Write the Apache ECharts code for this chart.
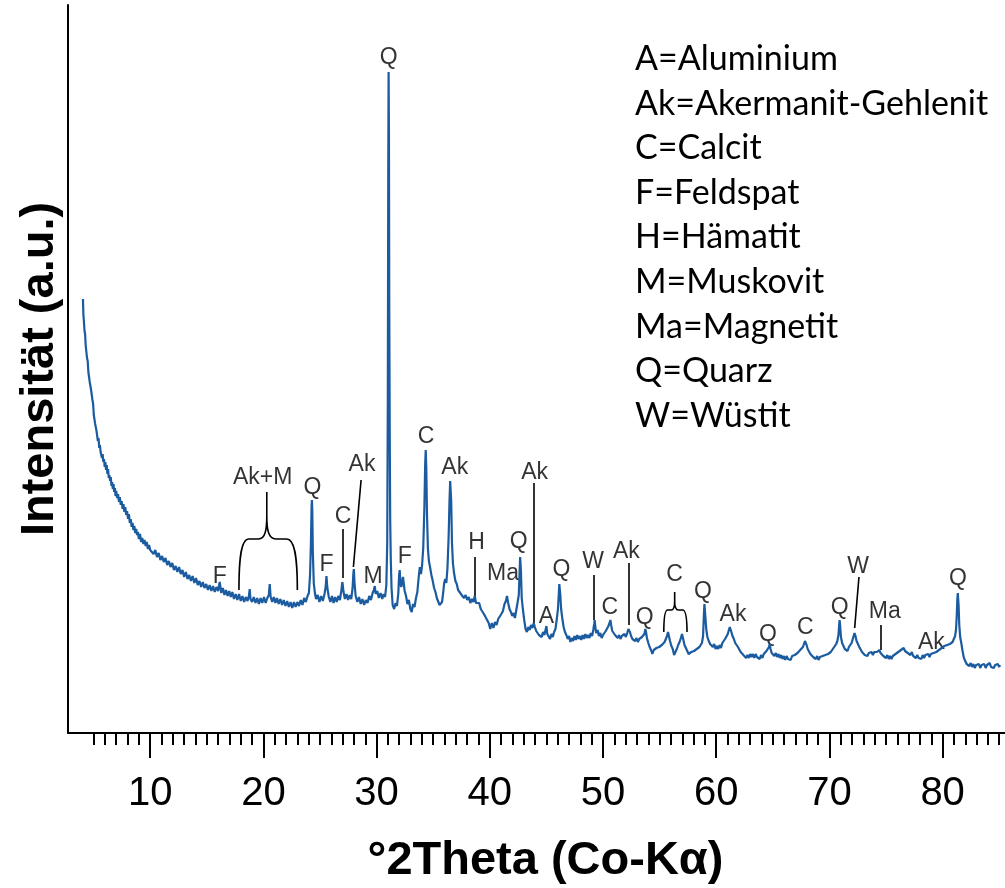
<!DOCTYPE html>
<html><head><meta charset="utf-8">
<script src="https://cdn.jsdelivr.net/npm/echarts@6/dist/echarts.min.js"></script>
<style>html,body{margin:0;padding:0;background:#fff}#c{width:1005px;height:888px}</style>
</head><body><div id="c"></div>
<script>
// ---- data (°2θ, intensity a.u.) ----
const scanLow = [[4.06,434],[4.10,418],[4.15,411],[4.20,402],[4.25,399],[4.30,388],[4.36,387],[4.42,375],[4.48,372],[4.54,361],[4.60,362],[4.66,351],[4.72,349],[4.78,343],[4.84,338],[4.90,333],[4.96,329],[5.02,318],[5.08,320],[5.14,309],[5.20,307],[5.26,302],[5.32,300],[5.38,292],[5.44,295],[5.50,285],[5.56,288],[5.62,281],[5.68,283],[5.74,275],[5.80,279],[5.86,271],[5.92,274],[5.98,266],[6.04,271],[6.10,263],[6.16,268],[6.22,259],[6.28,264],[6.34,255],[6.40,258],[6.46,252],[6.52,256],[6.58,247],[6.64,251],[6.70,244],[6.76,249],[6.82,241],[6.88,245],[6.94,237],[7.00,242],[7.08,235],[7.16,239],[7.24,231],[7.32,236],[7.40,228],[7.48,232],[7.56,224],[7.64,229],[7.72,221],[7.80,226],[7.88,218],[7.96,222],[8.04,214],[8.12,219],[8.20,210],[8.28,214],[8.36,206],[8.44,210],[8.52,203],[8.60,207],[8.68,200],[8.76,204],[8.84,198],[8.92,201],[9.00,194],[9.10,199],[9.20,191],[9.30,195],[9.40,189],[9.50,193],[9.60,187],[9.70,191],[9.80,184],[9.90,188],[10.00,183],
[10.15,185],[10.30,179],[10.45,183],[10.60,176],[10.75,180],[10.90,173],[11.05,177],[11.20,171],[11.35,175],[11.50,168],[11.65,172],[11.80,166],[11.95,170],[12.10,163],[12.25,167],[12.40,161],[12.55,166],[12.70,159],[12.85,163],[13.00,156],[13.15,161],[13.30,154],[13.45,158],[13.60,152],[13.75,157],[13.90,150],[14.05,155],[14.20,148],[14.35,152],[14.50,146],[14.65,151],[14.80,145],[14.95,149],[15.10,143],[15.25,148],[15.40,142],[15.55,147],[15.70,141],[15.85,146],[16.00,142],[16.14,151],[16.28,140],[16.42,145],[16.56,138],[16.70,143],[16.84,137],[16.98,142],[17.12,136],[17.26,141],[17.40,134],[17.55,139],[17.70,133],[17.85,139],[18.00,132],[18.15,137],[18.30,131],[18.45,136],[18.60,132],[18.72,137],[18.79,144],[18.86,134],[19.00,131],[19.15,136],[19.30,130],[19.45,135],[19.60,129],[19.75,135],[19.90,130],[20.05,136],[20.20,130],[20.35,135],[20.48,138],[20.56,149],[20.64,136],[20.78,131],[20.92,136],[21.06,130],[21.20,135],[21.35,129],[21.50,134],[21.65,128],[21.80,133],[21.95,127],[22.10,132],[22.25,126],[22.40,131],[22.55,125],[22.70,131],[22.85,126],[23.00,131],[23.15,127],[23.30,133],[23.45,128],[23.60,135],[23.75,131],[23.90,137],[24.02,140],[24.12,158],[24.20,190],[24.26,228],[24.29,233],[24.32,222],[24.37,180],[24.45,150],[24.55,140]];
const scanMid = [[24.65,134],[24.80,138],[24.95,131],[25.10,137],[25.25,132],[25.40,139],[25.50,146],[25.57,157],[25.65,145],[25.78,136],[25.92,131],[26.06,137],[26.20,130],[26.34,136],[26.48,131],[26.62,137],[26.76,133],[26.88,142],[26.98,151],[27.08,141],[27.20,134],[27.34,139],[27.48,133],[27.62,138],[27.76,134],[27.88,145],[27.95,160],[27.99,164],[28.05,150],[28.15,137],[28.30,131],[28.45,136],[28.60,129],[28.75,134],[28.90,128],[29.05,133],[29.20,130],[29.35,137],[29.50,133],[29.65,140],[29.76,143],[29.84,147],[29.92,139],[30.06,142],[30.20,135],[30.35,140],[30.50,134],[30.62,139],[30.75,136],[30.86,148],[30.94,190],[30.99,330],[31.03,560],[31.06,661],[31.09,600],[31.12,420],[31.16,300],[31.20,215],[31.25,175],[31.32,145],[31.42,128],[31.55,124],[31.68,130],[31.80,127],[31.92,140],[31.99,158],[32.04,163],[32.10,150],[32.18,146],[32.26,152],[32.33,156],[32.40,158],[32.48,142],[32.60,137],[32.72,129],[32.85,133],[32.98,124],[33.10,121],[33.22,129],[33.35,126],[33.48,135],[33.60,141],[33.72,156],[33.82,166],[33.92,159],[34.02,168],[34.12,185],[34.22,225],[34.29,268],[34.34,283],[34.39,265],[34.45,220],[34.53,185],[34.62,172],[34.72,166],[34.84,158],[34.96,152],[35.08,145],[35.20,141],[35.32,135],[35.44,133],[35.56,128],[35.68,126],[35.78,131],[35.88,140],[35.97,150],[36.06,154],[36.16,150],[36.26,165],[36.36,195],[36.44,232],[36.50,252],[36.54,254],[36.59,232],[36.66,190],[36.74,170],[36.84,160],[36.96,152],[37.08,149],[37.20,143],[37.32,145],[37.45,139],[37.58,141],[37.72,135],[37.86,138],[38.00,133],[38.14,136],[38.28,130],[38.42,134],[38.55,131],[38.67,137],[38.78,130],[38.92,128],[39.06,130],[39.20,124],[39.34,126],[39.48,119],[39.62,121],[39.76,113],[39.90,110],[40.04,104],[40.18,110],[40.32,105],[40.46,111],[40.60,108],[40.74,114],[40.88,112],[41.02,119],[41.16,122],[41.30,129],[41.42,132],[41.52,137],[41.62,130],[41.74,124],[41.86,121],[41.98,117],[42.10,120],[42.22,115],[42.34,123],[42.46,131],[42.56,138],[42.63,160],[42.68,176],[42.71,178],[42.75,162],[42.82,135],[42.92,124],[43.04,113],[43.16,104],[43.28,101],[43.40,106],[43.52,103],[43.64,108],[43.76,105],[43.88,110],[43.98,106],[44.10,102],[44.22,104],[44.34,98],[44.46,100],[44.58,96],[44.70,101],[44.82,98],[44.92,103],[45.00,107],[45.08,99],[45.20,97],[45.32,94],[45.44,99],[45.56,96],[45.68,101],[45.80,104],[45.92,114],[46.02,124],[46.09,138],[46.14,149],[46.18,151],[46.23,138],[46.30,124],[46.40,115],[46.52,106],[46.64,101]];
const scanHigh = [[46.76,98],[46.88,94],[47.00,97],[47.12,91],[47.24,95],[47.36,92],[47.48,97],[47.60,93],[47.72,98],[47.84,94],[47.96,97],[48.08,93],[48.20,98],[48.32,94],[48.44,99],[48.56,95],[48.68,98],[48.80,95],[48.92,100],[49.04,97],[49.14,103],[49.22,109],[49.27,113],[49.32,106],[49.40,100],[49.52,103],[49.64,97],[49.76,100],[49.88,95],[50.00,98],[50.12,97],[50.24,102],[50.36,104],[50.48,107],[50.58,110],[50.65,113],[50.72,108],[50.82,102],[50.94,104],[51.06,98],[51.18,100],[51.30,95],[51.42,98],[51.54,94],[51.66,97],[51.78,95],[51.90,99],[52.02,96],[52.14,100],[52.24,104],[52.30,106],[52.38,101],[52.48,97],[52.60,94],[52.72,96],[52.84,92],[52.96,95],[53.08,91],[53.20,94],[53.32,92],[53.44,96],[53.56,95],[53.66,99],[53.74,104],[53.80,101],[53.88,95],[54.00,90],[54.12,86],[54.24,83],[54.36,79],[54.48,83],[54.60,81],[54.72,85],[54.84,83],[54.96,86],[55.08,84],[55.20,88],[55.32,87],[55.44,91],[55.56,93],[55.66,97],[55.74,101],[55.82,97],[55.92,92],[56.04,87],[56.16,84],[56.28,78],[56.40,80],[56.52,84],[56.64,88],[56.76,91],[56.88,95],[56.98,99],[57.08,94],[57.20,88],[57.32,85],[57.44,82],[57.56,79],[57.68,77],[57.80,81],[57.92,79],[58.04,82],[58.16,80],[58.28,84],[58.40,82],[58.52,86],[58.64,85],[58.74,90],[58.84,97],[58.91,118],[58.96,129],[59.00,130],[59.05,115],[59.12,104],[59.22,96],[59.34,92],[59.46,89],[59.58,91],[59.70,86],[59.82,89],[59.94,84],[60.06,87],[60.18,84],[60.30,88],[60.42,85],[60.54,90],[60.66,89],[60.78,94],[60.90,96],[61.02,99],[61.12,103],[61.20,106],[61.26,107],[61.34,101],[61.44,97],[61.56,94],[61.68,90],[61.80,91],[61.92,86],[62.04,85],[62.16,81],[62.28,83],[62.40,78],[62.52,80],[62.64,75],[62.76,78],[62.88,75],[63.00,79],[63.12,76],[63.24,79],[63.36,75],[63.48,79],[63.60,76],[63.72,78],[63.84,74],[63.96,78],[64.08,75],[64.20,79],[64.32,78],[64.44,82],[64.56,81],[64.66,86],[64.73,89],[64.80,84],[64.90,80],[65.02,82],[65.14,77],[65.26,80],[65.38,76],[65.50,79],[65.62,75],[65.74,78],[65.86,74],[65.98,77],[66.10,73],[66.22,77],[66.34,74],[66.46,76],[66.58,73],[66.70,77],[66.82,75],[66.94,78],[67.06,76],[67.18,80],[67.30,79],[67.42,83],[67.54,82],[67.66,86],[67.76,88],[67.84,92],[67.90,93],[67.98,88],[68.08,84],[68.20,82],[68.32,79],[68.44,80],[68.56,76],[68.68,78],[68.80,74],[68.92,77],[69.04,73],[69.16,76],[69.28,74],[69.40,77],[69.52,75],[69.64,78],[69.76,76],[69.88,79],[70.00,77],[70.12,81],[70.24,80],[70.36,85],[70.48,85],[70.60,89],[70.70,92],[70.80,98],[70.86,108],[70.90,113],[70.95,107],[71.02,96],[71.12,90],[71.24,88],[71.36,84],[71.48,86],[71.60,82],[71.72,86],[71.84,85],[71.96,90],[72.06,92],[72.14,97],[72.22,100],[72.30,97],[72.40,92],[72.52,89],[72.64,86],[72.76,84],[72.88,81],[73.00,82],[73.12,78],[73.24,80],[73.36,77],[73.48,80],[73.60,78],[73.72,81],[73.84,78],[73.96,81],[74.08,79],[74.20,81],[74.32,80],[74.40,83],[74.52,80],[74.64,81],[74.76,77],[74.88,79],[75.00,75],[75.12,78],[75.24,74],[75.36,77],[75.48,74],[75.60,77],[75.72,75],[75.84,79],[75.96,77],[76.08,81],[76.20,79],[76.32,83],[76.44,81],[76.56,85],[76.68,82],[76.80,84],[76.92,80],[77.04,82],[77.16,78],[77.28,81],[77.40,77],[77.52,79],[77.64,75],[77.76,78],[77.88,75],[78.00,77],[78.12,74],[78.24,78],[78.36,75],[78.48,78],[78.60,76],[78.72,79],[78.84,76],[78.96,79],[79.08,77],[79.20,80],[79.32,78],[79.44,81],[79.56,80],[79.68,83],[79.80,82],[79.92,85],[80.04,84],[80.16,87],[80.28,85],[80.40,88],[80.52,86],[80.64,89],[80.76,88],[80.88,91],[81.00,93],[81.10,97],[81.18,103],[81.25,118],[81.30,134],[81.34,140],[81.37,141],[81.41,128],[81.47,108],[81.55,96],[81.65,90],[81.76,82],[81.88,75],[82.00,72],[82.12,69],[82.24,71],[82.36,67],[82.48,70],[82.60,66],[82.72,69],[82.84,65],[82.96,68],[83.08,66],[83.20,69],[83.32,65],[83.44,68],[83.56,66],[83.68,69],[83.80,65],[83.92,68],[84.04,66],[84.16,70],[84.28,66],[84.40,68],[84.52,65],[84.64,68],[84.76,66],[84.88,69],[85.00,66],[85.06,68]];

// phase labels: [text, °2θ, intensity where the label sits]
const peakLabels = [['F',16.14,156],['Ak+M',19.94,255],['Q',24.33,245],['F',25.57,168],['C',27.03,216],['Ak',28.71,268],['M',29.68,156],['Q',31.07,675],['F',32.48,176],['C',34.36,296],['Ak',36.90,265],['H',38.82,190],['Ma',41.17,159],['Q',42.55,191],['Ak',43.96,260],['A',45.00,116],['Q',46.32,163],['W',49.12,171],['C',50.59,125],['Ak',52.07,181],['Q',53.68,115],['C',56.33,158],['Q',58.83,141],['Ak',61.48,118],['Q',64.58,98],['C',67.88,105],['Q',70.91,125],['W',72.53,166],['Ma',74.89,121],['Ak',79.01,90],['Q',81.36,154]];
// leader lines: [θ1, I1, θ2, I2]
const leaderLines = [[26.98,204,26.98,155],[28.63,253,27.95,166],[38.67,176,38.67,133],[43.90,250,43.90,110],[49.17,158,49.17,113],[52.30,170,52.30,108],[72.61,156,72.23,105],[74.50,108,74.50,83]];
// braces: [θ left, θ right, θ middle, I bottom, I shoulder, I tip]
const braces = [[17.84,23.00,20.30,143,194,241],[55.37,57.42,56.33,101,123,141]];
const legendLines = ['A=Aluminium','Ak=Akermanit-Gehlenit','C=Calcit','F=Feldspat','H=Hämatit','M=Muskovit','Ma=Magnetit','Q=Quarz','W=Wüstit'];
const majorTicks = [10,20,30,40,50,60,70,80];
const minorTicks = [5,6,7,8,9,11,12,13,14,15,16,17,18,19,21,22,23,24,25,26,27,28,29,31,32,33,34,35,36,37,38,39,41,42,43,44,45,46,47,48,49,51,52,53,54,55,56,57,58,59,61,62,63,64,65,66,67,68,69,71,72,73,74,75,76,77,78,79,81,82,83,84,85];
const xRange = [2.74, 85.51];
const yRange = [0, 728];

const scan = scanLow.concat(scanMid, scanHigh);
const chart = echarts.init(document.getElementById('c'), null, {renderer:'canvas'});
const ARIAL = 'Liberation Sans';

const option = {
  animation: false,
  backgroundColor: '#fff',
  grid: {left: 68, right: 0, top: 5, bottom: 155, containLabel: false, outerBoundsMode: 'none'},
  xAxis: [{
    type: 'value', min: xRange[0], max: xRange[1],
    axisLine: {lineStyle: {color: '#000', width: 2}},
    splitLine: {show: false},
    axisTick: {customValues: majorTicks, length: 25, lineStyle: {color: '#000', width: 2}},
    axisLabel: {customValues: majorTicks, fontSize: 40, color: '#000', fontFamily: ARIAL, margin: 41},
    name: '°2Theta (Co-Kα)', nameLocation: 'middle', nameGap: 105, nameMoveOverlap: false,
    nameTextStyle: {fontSize: 47, fontWeight: 'bold', color: '#000', fontFamily: ARIAL, padding: [0, 0, 0, 18]}
  }, {
    type: 'value', min: xRange[0], max: xRange[1], position: 'bottom',
    axisLine: {show: false}, axisLabel: {show: false}, splitLine: {show: false},
    axisTick: {customValues: minorTicks, length: 12, lineStyle: {color: '#000', width: 2}}
  }],
  yAxis: {
    type: 'value', min: yRange[0], max: yRange[1],
    axisLine: {show: true, lineStyle: {color: '#000', width: 2}},
    axisTick: {show: false}, axisLabel: {show: false}, splitLine: {show: false},
    name: 'Intensität (a.u.)', nameLocation: 'middle', nameGap: 4, nameMoveOverlap: false,
    nameTextStyle: {fontSize: 47, fontWeight: 'bold', color: '#000', fontFamily: ARIAL}
  },
  graphic: legendLines.map((t, i) => ({
    type: 'text', x: 635, y: 59 + i * 44.6, silent: true,
    style: {text: t, fontSize: 34, fontFamily: 'Lato', fill: '#000', verticalAlign: 'middle'}
  })),
  series: [{
    type: 'line', data: scan, symbol: 'none', silent: true,
    lineStyle: {color: '#1b5b9f', width: 2.2}
  }, {
    type: 'lines', coordinateSystem: 'cartesian2d', silent: true,
    data: leaderLines.map(l => ({coords: [[l[0], l[1]], [l[2], l[3]]]})),
    lineStyle: {color: '#000', width: 1.6, opacity: 1}
  }, {
    type: 'custom', silent: true, clip: false,
    data: braces,
    renderItem: function (params, api) {
      const l = api.coord([api.value(0), api.value(3)]);
      const r = api.coord([api.value(1), api.value(3)]);
      const m = api.coord([api.value(2), api.value(4)]);
      const t = api.coord([api.value(2), api.value(5)]);
      const xL = l[0], xR = r[0], xM = m[0], yB = l[1], yS = m[1], yT = t[1];
      const c = (yS - yT) * 0.5, hl = xM - xL, hr = xR - xM;
      const d = 'M' + xL + ',' + yB +
        ' C' + xL + ',' + (yS + (yB - yS) * 0.3) + ' ' + (xL + hl * 0.1) + ',' + yS + ' ' + (xL + hl * 0.35) + ',' + yS +
        ' L' + (xM - hl * 0.3) + ',' + yS +
        ' C' + (xM - hl * 0.05) + ',' + yS + ' ' + xM + ',' + (yS - c * 0.4) + ' ' + xM + ',' + (yS - c) +
        ' L' + xM + ',' + yT +
        ' M' + xM + ',' + (yS - c) +
        ' C' + xM + ',' + (yS - c * 0.4) + ' ' + (xM + hr * 0.05) + ',' + yS + ' ' + (xM + hr * 0.3) + ',' + yS +
        ' L' + (xR - hr * 0.35) + ',' + yS +
        ' C' + (xR - hr * 0.1) + ',' + yS + ' ' + xR + ',' + (yS + (yB - yS) * 0.3) + ' ' + xR + ',' + yB;
      return {type: 'path', shape: {pathData: d}, style: {fill: 'none', stroke: '#000', lineWidth: 1.6}};
    }
  }, {
    type: 'scatter', silent: true, symbolSize: 1,
    itemStyle: {color: 'rgba(0,0,0,0)'},
    data: peakLabels.map(p => ({name: p[0], value: [p[1], p[2]]})),
    label: {show: true, position: 'inside', formatter: '{b}', fontSize: 23, fontFamily: ARIAL, color: '#000', textBorderWidth: 0}
  }]
};
chart.setOption(option);
</script>
</body></html>
